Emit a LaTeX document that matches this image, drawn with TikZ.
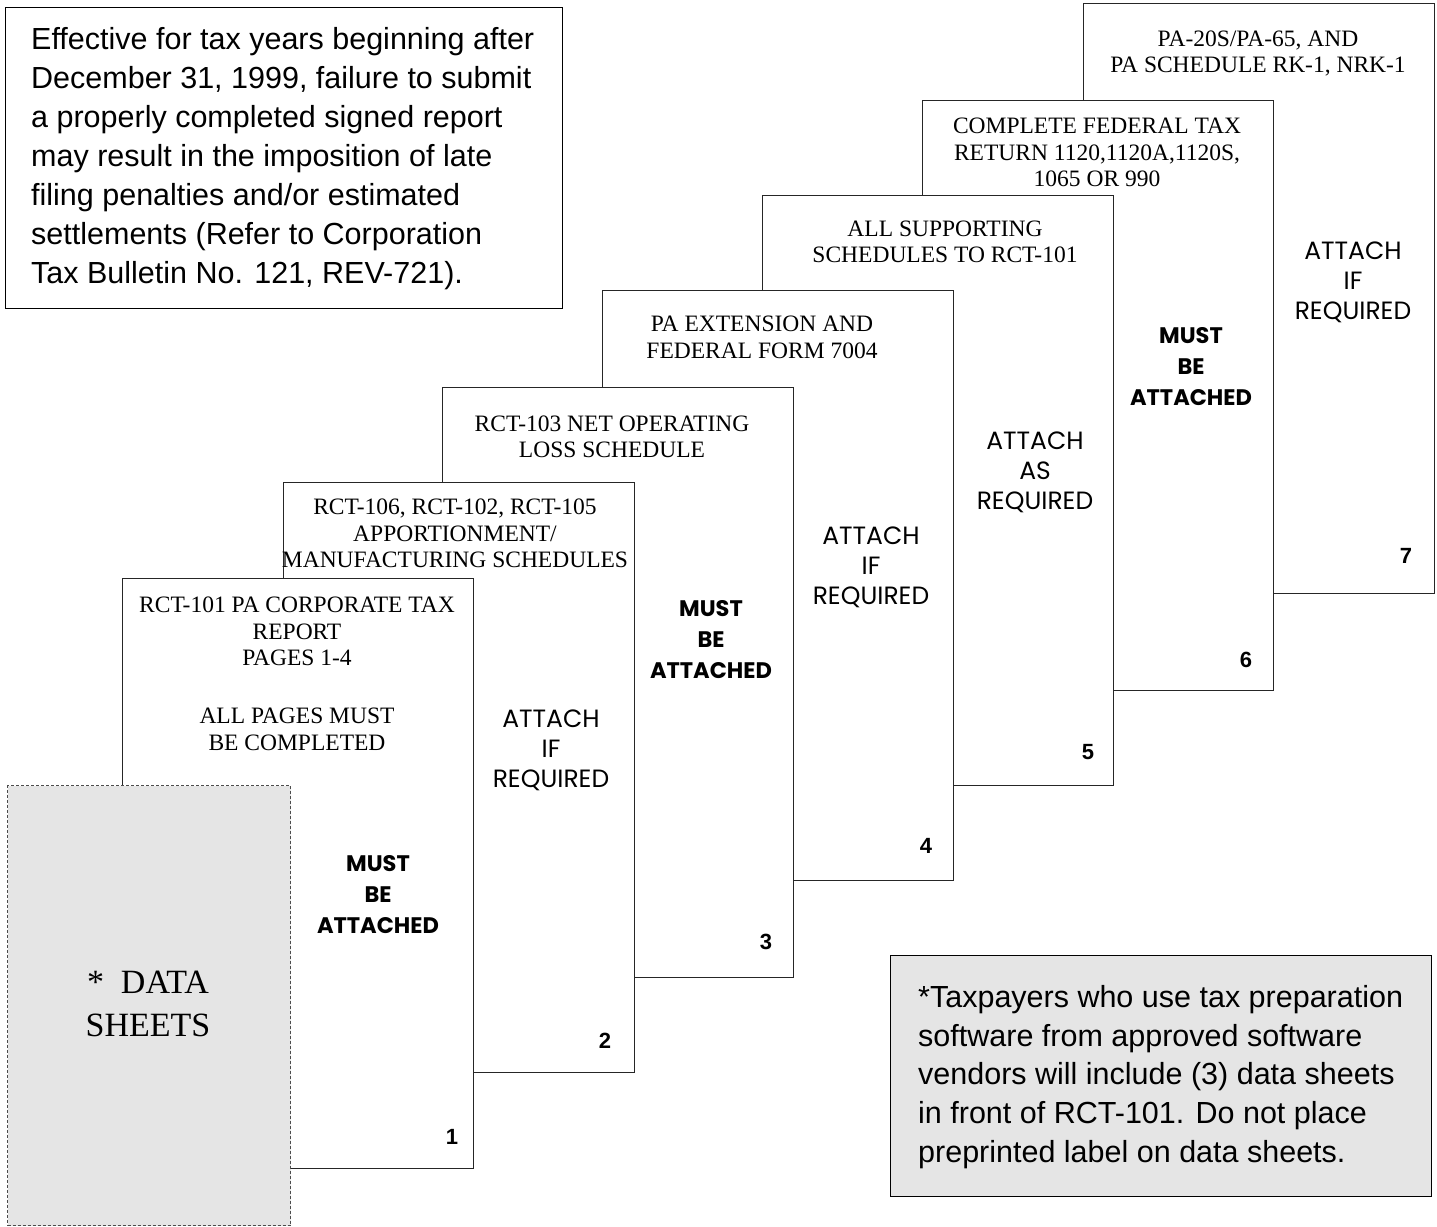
\documentclass[tikz,border=0pt]{standalone}
\usepackage{fontspec}
\setmainfont{Liberation Serif}
\newfontfamily\arialf{Liberation Sans}
\newfontfamily\geof{Poppins}
\definecolor{sheetgray}{HTML}{E5E5E5}
\tikzset{
  pagebox/.style={draw=black!85, line width=1.3pt, fill=white, minimum width=351pt, minimum height=590pt, anchor=north west, inner sep=0pt},
  head/.style={font=\fontsize{23.5}{26.5}\selectfont, align=center, inner sep=0pt},
  attachtxt/.style={font=\geof\fontsize{25}{30}\selectfont, align=center, inner sep=0pt},
  musttxt/.style={font=\geof\bfseries\fontsize{22.5}{31}\selectfont, align=center, inner sep=0pt},
  pnum/.style={font=\arialf\bfseries\fontsize{22}{24}\selectfont, inner sep=0pt},
  notebox/.style={draw=black, line width=1.2pt, anchor=north west, inner sep=0pt},
  notetxt/.style={font=\arialf\fontsize{30.5}{38.9}\selectfont, align=left, inner sep=0pt, anchor=west}
}
\begin{document}
\begin{tikzpicture}[x=1pt,y=-1pt]
\useasboundingbox (0,0) rectangle (1437,1226);
% note box top-left
\node[notebox, minimum width=557pt, minimum height=301pt] (warnbox) at (5,7) {};
\node[notetxt] (warntxt) at (31,158.5) {Effective for tax years beginning after\\December 31, 1999, failure to submit\\a properly completed signed report\\may result in the imposition of late\\filing penalties and/or estimated\\settlements (Refer to Corporation\\Tax Bulletin No. 121, REV-721).};
% pages from back to front
\node[pagebox] (p7) at (1083,3) {};
\node[head] (h7) at (1258,53.5) {PA-20S/PA-65, AND\\PA SCHEDULE RK-1, NRK-1};
\node[attachtxt] (t7) at (1353,282) {ATTACH\\IF\\REQUIRED};
\node[pnum] (n7) at (1406,556) {7};

\node[pagebox] (p6) at (922,100) {};
\node[head] (h6) at (1097,152.5) {COMPLETE FEDERAL TAX\\RETURN 1120,1120A,1120S,\\1065 OR 990};
\node[musttxt] (t6) at (1191,367) {MUST\\BE\\ATTACHED};
\node[pnum] (n6) at (1246,660) {6};

\node[pagebox] (p5) at (762,195) {};
\node[head] (h5) at (945,242) {ALL SUPPORTING\\SCHEDULES TO RCT-101};
\node[attachtxt] (t5) at (1035,472) {ATTACH\\AS\\REQUIRED};
\node[pnum] (n5) at (1088,752) {5};

\node[pagebox] (p4) at (602,290) {};
\node[head] (h4) at (762,337.5) {PA EXTENSION AND\\FEDERAL FORM 7004};
\node[attachtxt] (t4) at (871,567) {ATTACH\\IF\\REQUIRED};
\node[pnum] (n4) at (926,846) {4};

\node[pagebox] (p3) at (442,387) {};
\node[head] (h3) at (612,437) {RCT-103 NET OPERATING\\LOSS SCHEDULE};
\node[musttxt] (t3) at (711,640) {MUST\\BE\\ATTACHED};
\node[pnum] (n3) at (766,942) {3};

\node[pagebox] (p2) at (283,482) {};
\node[head] (h2) at (455,533.5) {RCT-106, RCT-102, RCT-105\\APPORTIONMENT/\\MANUFACTURING SCHEDULES};
\node[attachtxt] (t2) at (551,750) {ATTACH\\IF\\REQUIRED};
\node[pnum] (n2) at (605,1041) {2};

\node[pagebox] (p1) at (122,578) {};
\node[head] (h1a) at (297,631.5) {RCT-101 PA CORPORATE TAX\\REPORT\\PAGES 1-4};
\node[head] (h1b) at (297,729.5) {ALL PAGES MUST\\BE COMPLETED};
\node[musttxt] (t1) at (378,895) {MUST\\BE\\ATTACHED};
\node[pnum] (n1) at (452,1137) {1};

% data sheets
\node[draw=black!70, dash pattern=on 3pt off 2pt, line width=1pt, fill=sheetgray, minimum width=283pt, minimum height=440pt, anchor=north west, inner sep=0pt] (ds) at (7,785) {};
\node[font=\fontsize{34}{43}\selectfont, align=center, inner sep=0pt] (dstxt) at (148,1003.5) {*\ \ DATA\\SHEETS};

% note box bottom-right
\node[notebox, fill=sheetgray, minimum width=541pt, minimum height=241pt] (softbox) at (890,955) {};
\node[notetxt] (softtxt) at (918,1077) {*Taxpayers who use tax preparation\\software from approved software\\vendors will include (3) data sheets\\in front of RCT-101. Do not place\\preprinted label on data sheets.};
\end{tikzpicture}
\end{document}
